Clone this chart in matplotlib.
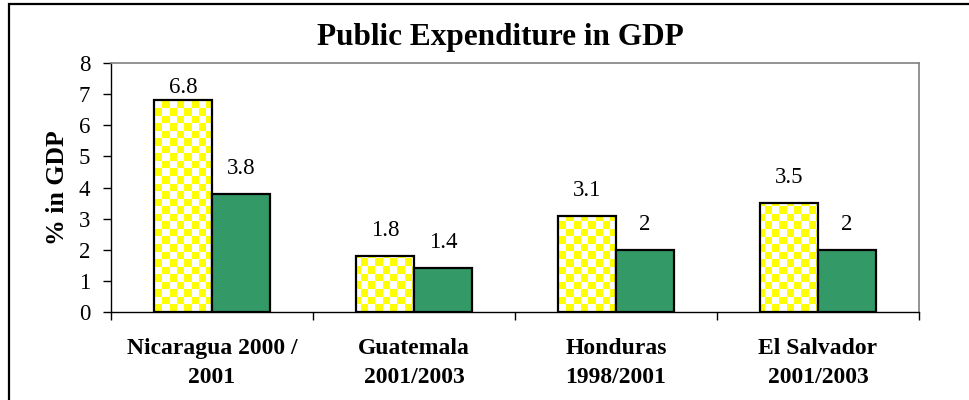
import matplotlib
matplotlib.use("Agg")
import matplotlib.pyplot as plt
import numpy as np
from matplotlib.patches import Rectangle
from matplotlib.colors import ListedColormap

categories = ["Nicaragua 2000 /\n2001", "Guatemala\n2001/2003", "Honduras\n1998/2001", "El Salvador\n2001/2003"]
series_a = [6.8, 1.8, 3.1, 3.5]
series_b = [3.8, 1.4, 2.0, 2.0]
labels_a = ["6.8", "1.8", "3.1", "3.5"]
labels_b = ["3.8", "1.4", "2", "2"]
yticks = [0, 1, 2, 3, 4, 5, 6, 7, 8]

plt.rcParams['font.family'] = ['Liberation Serif', 'DejaVu Serif']

W, H = 969, 400
fig = plt.figure(figsize=(W / 100, H / 100), dpi=100)
fig.patch.set_facecolor('white')

# outer chart border (left and top visible)
fig.patches.append(Rectangle((8.5 / W, -0.1), 1.2, 1.1 - 4.5 / H, transform=fig.transFigure,
                             fill=False, edgecolor='#000000', linewidth=1.6, zorder=0))

ax = fig.add_axes([111 / W, 1 - 312 / H, (919 - 111) / W, (312 - 63) / H])

x = np.arange(len(categories))
bw = 0.287
green = '#339966'
YMAX = 8

bars_a = ax.bar(x - bw / 2, series_a, bw, facecolor='none', edgecolor='black', linewidth=1.6, zorder=3)
bars_b = ax.bar(x + bw / 2, series_b, bw, facecolor=green, edgecolor='black', linewidth=1.6, zorder=3)

# checkerboard fill for yellow bars
nx, ny = 110, 33
cb = (np.indices((ny, nx)).sum(axis=0) % 2).astype(float)
cmap = ListedColormap(['#FFFF00', '#FFFFFF'])
for b in bars_a:
    im = ax.imshow(cb, cmap=cmap, extent=(-0.5, len(categories) - 0.5, 0, YMAX), aspect='auto',
                   interpolation='nearest', origin='lower', zorder=2)
    im.set_clip_path(b)
ax.set_xlim(-0.5, len(categories) - 0.5)
ax.set_ylim(0, YMAX)

# data labels: ~20 px above bar, but kept inside the plot area
px_per_unit = (312 - 63) / YMAX
def label_offset(v):
    gap_px = (YMAX - v) * px_per_unit
    off_px = min(20, gap_px - 30)
    return off_px * 72 / 100

for xi, v, t in zip(x - bw / 2, series_a, labels_a):
    ax.annotate(t, (xi, v), xytext=(0, label_offset(v)), textcoords='offset points',
                ha='center', va='baseline', fontsize=16.5)
for xi, v, t in zip(x + bw / 2, series_b, labels_b):
    ax.annotate(t, (xi, v), xytext=(0, label_offset(v)), textcoords='offset points',
                ha='center', va='baseline', fontsize=16.5)

ax.set_yticks(yticks)
ax.set_yticklabels([str(t) for t in yticks], fontsize=16.5)
ax.tick_params(axis='y', direction='out', length=6, width=1, pad=9)

ax.set_xticks(np.arange(-0.5, len(categories), 1.0))
ax.set_xticklabels([])
ax.tick_params(axis='x', which='major', direction='out', length=6, width=1)
ax.set_xticks(x, minor=True)
ax.set_xticklabels(categories, minor=True, fontsize=17, fontweight='bold', linespacing=1.5)
ax.tick_params(axis='x', which='minor', length=0, pad=19)

ax.set_ylabel('% in GDP', fontsize=18.5, fontweight='bold', labelpad=7)

for s in ['top', 'right']:
    ax.spines[s].set_color('#808080')
    ax.spines[s].set_linewidth(1.2)
for s in ['left', 'bottom']:
    ax.spines[s].set_color('black')
    ax.spines[s].set_linewidth(1.0)

fig.text(500 / W, 1 - 45 / H, 'Public Expenditure in GDP', ha='center', va='baseline',
         fontsize=22.5, fontweight='bold')

fig.savefig('out.png', dpi=100)
